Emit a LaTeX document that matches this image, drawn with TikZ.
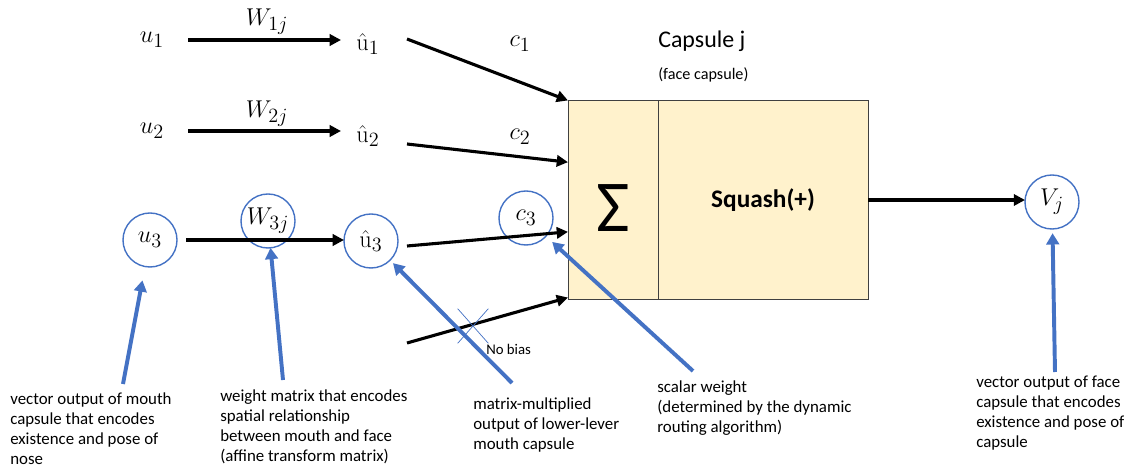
\documentclass[tikz,border=0pt]{standalone}
\usepackage[no-math]{fontspec}
\setmainfont{Carlito}
\usetikzlibrary{arrows.meta, positioning, shapes.misc, calc}
\definecolor{capblue}{RGB}{68,114,196}
\definecolor{capfill}{RGB}{255,242,204}
\definecolor{capline}{RGB}{64,64,64}

\begin{document}
\begin{tikzpicture}[x=0.025cm, y=-0.025cm,
  arr/.style={-{Triangle[length=8pt,width=8pt]}, line width=2.2pt},
  ptr/.style={-{Triangle[length=8pt,width=9pt]}, line width=2.8pt, capblue},
  sym/.style={circle, minimum size=1.35cm, inner sep=0pt, outer sep=0pt, font=\fontsize{19}{21}\selectfont},
  ring/.style={sym, draw=capblue, line width=1pt},
  part/.style={rectangle, draw=capline, line width=0.6pt, fill=capfill, minimum height=4.975cm, outer sep=0pt, inner sep=0pt},
  note/.style={anchor=north west, align=left, inner sep=0pt, font=\fontsize{12}{14.2}\selectfont}
]
  \useasboundingbox (0,0) rectangle (1133,472);

  % inputs and predictions
  \node[sym]  (u1)  at (152,40)  {$u_1$};
  \node[sym]  (u2)  at (152,131) {$u_2$};
  \node[ring] (u3)  at (150,240) {$u_3$};
  \node[sym]  (uh1) at (368,44)  {$\hat{\mathrm{u}}_1$};
  \node[sym]  (uh2) at (368,136) {$\hat{\mathrm{u}}_2$};
  \node[ring] (uh3) at (371,241) {$\hat{\mathrm{u}}_3$};
  \node[font=\fontsize{19}{21}\selectfont] (w1) at (267,22)  {$W_{1j}$};
  \node[font=\fontsize{19}{21}\selectfont] (w2) at (267,114) {$W_{2j}$};
  \node[ring] (w3)  at (268,221) {$W_{3j}$};
  \node[font=\fontsize{19}{21}\selectfont] (c1) at (520,44)  {$c_1$};
  \node[font=\fontsize{19}{21}\selectfont] (c2) at (520,137) {$c_2$};
  \node[ring] (c3)  at (526,218) {$c_3$};

  \draw[arr, shorten <=6.4pt] (u1) -- (u1 -| uh1.west);
  \draw[arr, shorten <=6.4pt] (u2) -- (u2 -| uh2.west);
  \draw[arr, shorten <=6.4pt] (u3) -- (u3 -| uh3.west);

  % capsule j
  \node[part, minimum width=2.25cm] (sum) at (613,200) {};
  \node[part, minimum width=5.25cm, right=0pt of sum, font=\fontsize{18}{20}\selectfont\bfseries] (squash) {Squash(+)};
  \node[font=\fontsize{52}{52}\selectfont, inner sep=0pt] (sig) at ($(sum)+(0,8)$) {Σ};
  \node[anchor=base west, inner sep=0pt, font=\fontsize{17}{19}\selectfont] (title) at (658,48) {Capsule j};
  \node[anchor=base west, inner sep=0pt, font=\fontsize{11.5}{13}\selectfont] (sub) at (658,80) {(face capsule)};

  \coordinate (o1) at (407,39);
  \coordinate (o2) at (407,144);
  \coordinate (o3) at (407,246);
  \coordinate (o4) at (407,343);
  \draw[arr] (o1) -- (sum.north west);
  \draw[arr] (o2) -- ($(sum.north west)!0.31!(sum.south west)$);
  \draw[arr] (o3) -- ($(sum.north west)!0.66!(sum.south west)$);
  \draw[arr] (o4) -- ($(sum.north west)!0.99!(sum.south west)$);

  % no bias
  \node[cross out, draw=capblue, line width=0.5pt, minimum width=0.75cm, minimum height=0.85cm] (nb) at (473,326) {};
  \node[anchor=base west, inner sep=0pt, font=\fontsize{10.5}{12}\selectfont] (nbt) at (486,354) {No bias};

  % output
  \node[ring] (vj) at (1052,202) {$V_j$};
  \draw[arr] (squash.east) -- (squash.east -| vj.west);

  % explanations
  \node[note] (n1) at (10,393)  {vector output of mouth\\capsule that encodes\\existence and pose of\\nose};
  \node[note] (n2) at (220,390) {weight matrix that encodes\\spatial relationship\\between mouth and face\\(affine transform matrix)};
  \node[note] (n3) at (473,398) {matrix-multiplied\\output of lower-lever\\mouth capsule};
  \node[note] (n4) at (657,381) {scalar weight\\(determined by the dynamic\\routing algorithm)};
  \node[note] (n5) at (976,376) {vector output of face\\capsule that encodes\\existence and pose of\\capsule};

  \coordinate (p1) at (123,384);
  \coordinate (p2) at (283,380);
  \coordinate (p3) at (512,383);
  \coordinate (p4) at (693,371);
  \coordinate (p5) at (1055,372);
  \draw[ptr, shorten >=10pt] (p1) -- (u3);
  \draw[ptr] (p2) -- (w3);
  \draw[ptr, shorten >=3pt] (p3) -- (uh3);
  \draw[ptr, shorten >=6pt] (p4) -- (c3);
  \draw[ptr, shorten >=3pt] (p5) -- (vj);
\end{tikzpicture}
\end{document}
